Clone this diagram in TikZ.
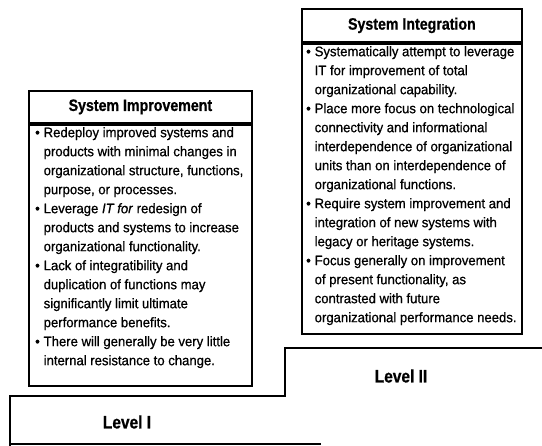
\documentclass[tikz,border=0pt]{standalone}
\usepackage{fontspec}
\setmainfont{Liberation Sans}
\newfontfamily\bodyfont{Liberation Sans}[FakeStretch=0.95,FakeBold=0.7]
\newfontfamily\headfont{Liberation Sans}[FakeStretch=0.86,FakeBold=0.8]
% bullet and hanging indent for the hand-broken item lists
\newcommand\itm{\makebox[8.5pt][l]{\textbullet}}
\newcommand\cnt{\hspace*{8.5pt}}
\begin{document}
\begin{tikzpicture}[x=1pt,y=-1pt,
  frame/.style={draw, line width=1.8pt, inner sep=0pt, anchor=north west},
  head/.style={font=\headfont\bfseries\fontsize{16.5}{18}\selectfont, inner sep=0pt},
  body/.style={font=\bodyfont\fontsize{13.8}{19}\selectfont, align=left, inner sep=0pt, anchor=north west},
  levellabel/.style={font=\headfont\bfseries\fontsize{18}{20}\selectfont, inner sep=0pt},
  stairline/.style={line width=2pt, line join=miter}]
\useasboundingbox (0,0) rectangle (542,446);

% Level I / Level II steps
\coordinate (lowLeft)  at (10,446);
\coordinate (lowTop)   at (10,396);
\coordinate (stepFoot) at (285,396);
\coordinate (stepTop)  at (285,348);
\coordinate (highEnd)  at (542,348);
\coordinate (baseL)    at (10,444);
\coordinate (baseR)    at (321,444);
\draw[stairline] (lowLeft) -- (lowTop) -- (stepFoot) -- (stepTop) -- (highEnd);
\draw[line width=1.2pt] (baseL) -- (baseR);
\node[levellabel] (levelOne) at (127,422) {Level I};
\node[levellabel] (levelTwo) at (401,376) {Level II};

% System Improvement box
\node[frame, minimum width=223pt, minimum height=32pt] (impHead) at (28,90) {};
\node[head] (impTitle) at (impHead.center) {System Improvement};
\node[frame, minimum width=223pt, minimum height=261pt] (impBody) at (impHead.south west) {};
\node[body] (impText) at (35,127) {%
\itm Redeploy improved systems and\\
\cnt products with minimal changes in\\
\cnt organizational structure, functions,\\
\cnt purpose, or processes.\\
\itm Leverage \textit{IT for} redesign of\\
\cnt products and systems to increase\\
\cnt organizational functionality.\\
\itm Lack of integratibility and\\
\cnt duplication of functions may\\
\cnt significantly limit ultimate\\
\cnt performance benefits.\\
\itm There will generally be very little\\
\cnt internal resistance to change.};

% System Integration box
\node[frame, minimum width=220pt, minimum height=33pt] (intHead) at (301,8) {};
\node[head] (intTitle) at (intHead.center) {System Integration};
\node[frame, minimum width=220pt, minimum height=290pt] (intBody) at (intHead.south west) {};
\node[body] (intText) at (306,46) {%
\itm Systematically attempt to leverage\\
\cnt IT for improvement of total\\
\cnt organizational capability.\\
\itm Place more focus on technological\\
\cnt connectivity and informational\\
\cnt interdependence of organizational\\
\cnt units than on interdependence of\\
\cnt organizational functions.\\
\itm Require system improvement and\\
\cnt integration of new systems with\\
\cnt legacy or heritage systems.\\
\itm Focus generally on improvement\\
\cnt of present functionality, as\\
\cnt contrasted with future\\
\cnt organizational performance needs.};
\end{tikzpicture}
\end{document}
